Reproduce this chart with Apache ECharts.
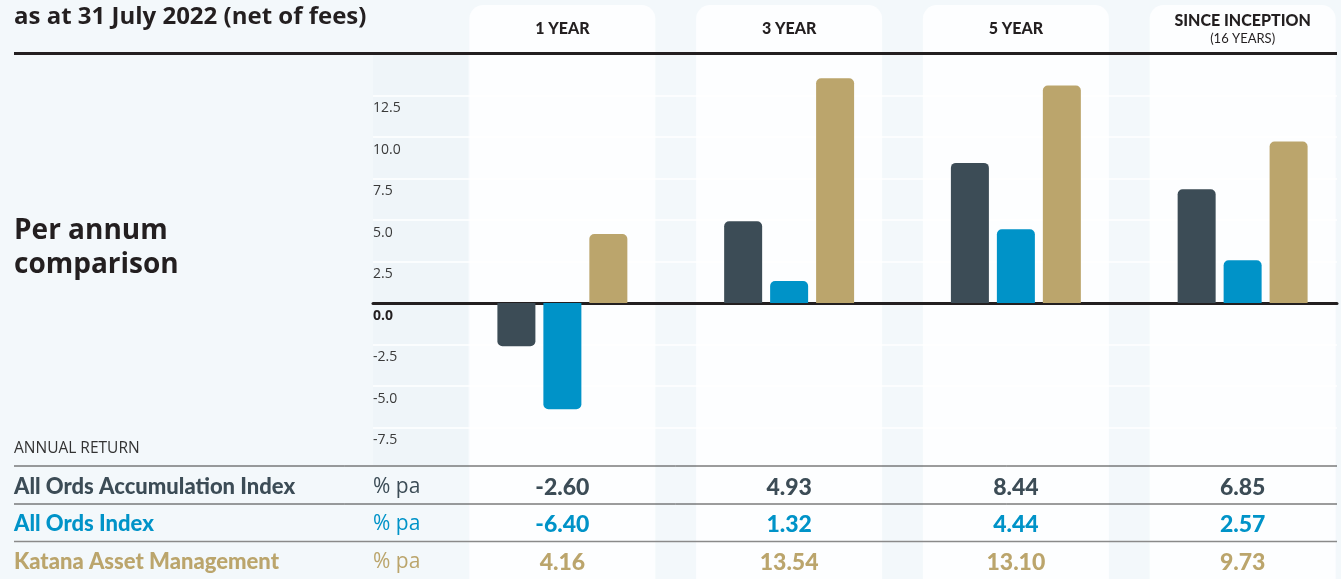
<!DOCTYPE html>
<html>
<head>
<meta charset="utf-8">
<script src="https://cdn.jsdelivr.net/npm/echarts@6/dist/echarts.min.js"></script>
<style>
    html, body { margin: 0; padding: 0; background: #f3f8fb; }
    #chart { width: 1341px; height: 579px; }
</style>
</head>
<body>
<div id="chart"></div>
<script>
// 数据
const periods = ['1 YEAR', '3 YEAR', '5 YEAR', 'SINCE INCEPTION'];
const periodNotes = ['', '', '', '(16 YEARS)'];
const seriesNames = ['All Ords Accumulation Index', 'All Ords Index', 'Katana Asset Management'];
const accumIndex = [-2.60, 4.93, 8.44, 6.85];
const ordsIndex = [-6.40, 1.32, 4.44, 2.57];
const katana = [4.16, 13.54, 13.10, 9.73];
const unitLabel = '% pa';

const colors = ['#3c4c56', '#0093c8', '#bba56c'];
const allValues = [accumIndex, ordsIndex, katana];

// 布局
const gridTop = 54, gridHeight = 373.5;
const barLeft = 449, barWidthTotal = 907;
const band = barWidthTotal / periods.length;
const rowY = [487, 524, 562];
const font = 'Lato, "Open Sans", sans-serif';

const chart = echarts.init(document.getElementById('chart'));

const graphics = [];
periods.forEach((p, i) => {
    const cx = barLeft + band * (i + 0.5);
    graphics.push({
        type: 'rect', z: -10, silent: true,
        shape: { x: cx - 93, y: 5, width: 186, height: 620, r: [14, 14, 0, 0] },
        style: { fill: '#fdfeff' }
    });
});
graphics.push(
    { type: 'rect', z: -11, shape: { x: 373, y: 55, width: 95, height: 410 }, style: { fill: '#eff5f9' } },
    { type: 'line', z: 5, shape: { x1: 14, y1: 53.5, x2: 1337, y2: 53.5 }, style: { stroke: '#231f20', lineWidth: 3 } },
    { type: 'line', z: 5, shape: { x1: 14, y1: 466, x2: 1337, y2: 466 }, style: { stroke: '#3a3a3a', lineWidth: 1 } },
    { type: 'line', z: 5, shape: { x1: 14, y1: 504, x2: 1337, y2: 504 }, style: { stroke: '#3a3a3a', lineWidth: 1 } },
    { type: 'line', z: 5, shape: { x1: 14, y1: 541.5, x2: 1337, y2: 541.5 }, style: { stroke: '#8a8a8a', lineWidth: 1.5 } },
    { type: 'text', x: 14, y: 17, style: { text: 'as at 31 July 2022 (net of fees)', font: 'bold 24px "Open Sans", sans-serif', fill: '#231f20', verticalAlign: 'middle' } },
    { type: 'text', x: 14, y: 248, style: { text: 'Per annum\ncomparison', font: 'bold 28px "Open Sans", sans-serif', fill: '#231f20', lineHeight: 34, verticalAlign: 'middle' } },
    { type: 'text', x: 14, y: 449, style: { text: 'ANNUAL RETURN', font: '15.5px "Open Sans", sans-serif', fill: '#333', verticalAlign: 'middle' } }
);
seriesNames.forEach((name, i) => {
    graphics.push(
        { type: 'text', x: 14, y: rowY[i], style: { text: name, font: '900 22px ' + font, fill: colors[i], verticalAlign: 'middle' } },
        { type: 'text', x: 373, y: rowY[i], style: { text: unitLabel, font: '21px "Open Sans", sans-serif', fill: colors[i], verticalAlign: 'middle' } }
    );
});

const fmt = v => v.toFixed(2);
const valueRich = k => ({ fontFamily: font, fontWeight: 900, fontSize: 23, lineHeight: 37.5, color: colors[k] });

const option = {
    backgroundColor: '#f3f8fb',
    animation: false,
    grid: [
        { left: 373, right: 4, top: gridTop, height: gridHeight, outerBoundsMode: 'none' },
        { left: barLeft, width: barWidthTotal, top: gridTop, height: gridHeight, outerBoundsMode: 'none' }
    ],
    xAxis: [
        {
            gridIndex: 0, type: 'value', min: 0, max: 1,
            axisLine: { show: true, onZero: true, lineStyle: { color: '#231f20', width: 3 } },
            axisTick: { show: false }, axisLabel: { show: false }, splitLine: { show: false }
        },
        {
            gridIndex: 1, type: 'category', data: periods, position: 'bottom',
            axisLine: { show: false, onZero: false }, axisTick: { show: false }, splitLine: { show: false },
            axisLabel: {
                margin: 41,
                verticalAlign: 'top',
                formatter: (v, i) => `{a|${fmt(accumIndex[i])}}\n{b|${fmt(ordsIndex[i])}}\n{c|${fmt(katana[i])}}`,
                rich: { a: valueRich(0), b: valueRich(1), c: valueRich(2) }
            }
        },
        {
            gridIndex: 1, type: 'category', data: periods, position: 'top',
            axisLine: { show: false, onZero: false }, axisTick: { show: false }, splitLine: { show: false },
            axisLabel: {
                margin: 25,
                verticalAlign: 'middle',
                formatter: (v, i) => periodNotes[i] ? `{h|${v}}\n{n|${periodNotes[i]}}` : `{h|${v}}`,
                rich: {
                    h: { fontFamily: font, fontWeight: 900, fontSize: 16, lineHeight: 19, color: '#231f20' },
                    n: { fontFamily: font, fontSize: 13, lineHeight: 17, color: '#231f20' }
                }
            }
        }
    ],
    yAxis: [
        {
            gridIndex: 0, type: 'value', min: -7.5, max: 15, interval: 2.5,
            axisLine: { show: false }, axisTick: { show: false },
            splitLine: { show: true, lineStyle: { color: '#ffffff', width: 1.5 } },
            axisLabel: {
                inside: true, margin: 0, verticalAlign: 'top', padding: [6, 0, 0, 0],
                formatter: v => v >= 15 ? '' : (v === 0 ? '{z|0.0}' : v.toFixed(1)),
                fontFamily: '"Open Sans", sans-serif', fontSize: 14, color: '#3a3a3a',
                rich: { z: { fontFamily: '"Open Sans", sans-serif', fontWeight: 'bold', fontSize: 14, color: '#231f20' } }
            }
        },
        {
            gridIndex: 1, type: 'value', min: -7.5, max: 15, interval: 2.5, show: false
        }
    ],
    graphic: graphics,
    series: allValues.map((vals, k) => ({
        name: seriesNames[k],
        type: 'bar',
        xAxisIndex: 1,
        yAxisIndex: 1,
        barWidth: 38,
        barGap: '21%',
        itemStyle: { color: colors[k] },
        data: vals.map(v => ({
            value: v,
            itemStyle: { borderRadius: v < 0 ? [0, 0, 5, 5] : [5, 5, 0, 0] }
        }))
    }))
};

chart.setOption(option);
</script>
</body>
</html>
